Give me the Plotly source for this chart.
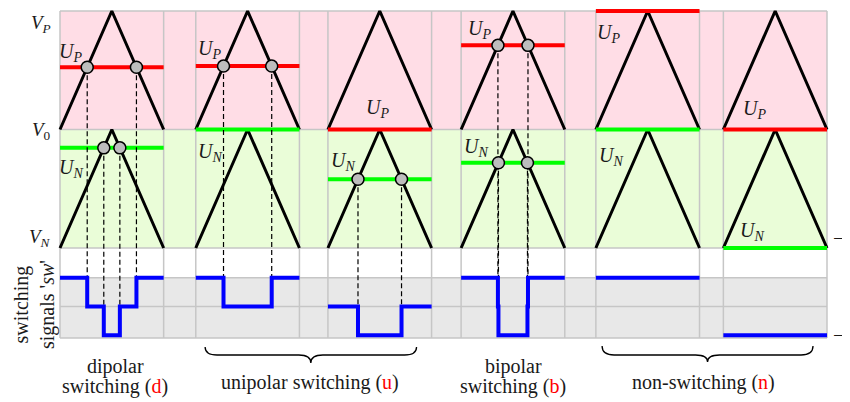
import plotly.graph_objects as go

# ---------------- data ----------------
panel_modes = ["d", "u", "u", "b", "n", "n"]
U_P = [0.525, 0.535, 0.0, 0.71, 1.0, 0.0]      # upper reference per panel
U_N = [-0.155, 0.0, -0.42, -0.28, 0.0, -1.0]   # lower reference per panel
left_labels = ["<i>V</i><sub><i>P</i></sub>", "<i>V</i><sub>0</sub>", "<i>V</i><sub><i>N</i></sub>"]
right_top_labels = ["1", "0", "\u22121"]
right_sw_labels = ["1", "0", "\u22121"]
sw_levels = [1, 0, -1]

# ---------------- layout constants ----------------
W, H = 850, 402
OFF = 8                  # page body margin offset
ML, MR, MT, MB = 50, 29, 1, 70
PXU_X = 103.65           # px per x unit
PXU_Y = 118.5            # px per y unit
X0S, Y1S = 60, 11        # screen pixel of x=0 and y=1
PANEL_X0 = [0.0, 1.31, 2.585, 3.87, 5.17, 6.4]
PANEL_W = 1.0
X_MAX = 7.4
SW_MID = -1.494
SW_SCALE = 0.2426
PW = W - ML - MR
PH = H - MT - MB


def scr_to_xd(xs):
    return (xs - X0S) / PXU_X


def px_y(ys):
    return 1 - (ys - Y1S) / PXU_Y


X_RANGE = [scr_to_xd(ML + OFF), scr_to_xd(ML + OFF + PW)]
Y_RANGE = [px_y(MT + OFF + PH), px_y(MT + OFF)]
Y_FRAME_BOT = px_y(338)


def sw_y(v):
    return SW_MID + v * SW_SCALE


def pxp(xs):
    return (xs - OFF - ML) / PW


def pyp(ys):
    return (H - MB - (ys - OFF)) / PH


def paper_x(xd):
    return pxp(X0S + xd * PXU_X)


PINK = "#FFDDE6"
LGREEN = "#EAFDD8"
LGRAY = "#E8E8E8"
GRID = "#C6C6C6"
SERIF = "Liberation Serif, Times New Roman, serif"
TXT = "#1a1a1a"

# label placement offsets (relative to panel start, data units)
UP_LBL = [(0.106, 0.654), (0.135, 0.671), (0.482, 0.181), (0.174, 0.84), (0.125, 0.814), (0.30, 0.165)]
UN_LBL = [(0.106, -0.325), (0.135, -0.19), (0.145, -0.274), (0.145, -0.156), (0.145, -0.224), (0.28, -0.857)]

fig = go.Figure()
shapes = []
shapes.append(dict(type="rect", x0=0, x1=X_MAX, y0=0, y1=1, fillcolor=PINK, line_width=0, layer="below"))
shapes.append(dict(type="rect", x0=0, x1=X_MAX, y0=-1, y1=0, fillcolor=LGREEN, line_width=0, layer="below"))
shapes.append(dict(type="rect", x0=0, x1=X_MAX, y0=Y_FRAME_BOT, y1=sw_y(1), fillcolor=LGRAY, line_width=0, layer="below"))
for yv in [1, 0, -1, sw_y(1), sw_y(0), Y_FRAME_BOT]:
    shapes.append(dict(type="line", x0=0, x1=X_MAX, y0=yv, y1=yv, line=dict(color=GRID, width=1.5), layer="below"))
for x0 in PANEL_X0:
    for xv in (x0, x0 + PANEL_W):
        shapes.append(dict(type="line", x0=xv, x1=xv, y0=Y_FRAME_BOT, y1=1, line=dict(color=GRID, width=1.5), layer="below"))

circ_x, circ_y = [], []
for i, x0 in enumerate(PANEL_X0):
    c = x0 + PANEL_W / 2
    hw = PANEL_W / 2
    up, un = U_P[i], U_N[i]
    fig.add_trace(go.Scatter(x=[x0, c, x0 + PANEL_W], y=[0, 1, 0], mode="lines",
                             line=dict(color="black", width=3), hoverinfo="skip", showlegend=False))
    fig.add_trace(go.Scatter(x=[x0, c, x0 + PANEL_W], y=[-1, 0, -1], mode="lines",
                             line=dict(color="black", width=3), hoverinfo="skip", showlegend=False))
    fig.add_trace(go.Scatter(x=[x0, x0 + PANEL_W], y=[up, up], mode="lines",
                             line=dict(color="#FF0000", width=4), hoverinfo="skip", showlegend=False))
    fig.add_trace(go.Scatter(x=[x0, x0 + PANEL_W], y=[un, un], mode="lines",
                             line=dict(color="#00FF00", width=4), hoverinfo="skip", showlegend=False))

    def sw_at(x, c=c, hw=hw, up=up, un=un):
        cp = 1 - abs(x - c) / hw
        cn = -abs(x - c) / hw
        sp = 1 if up >= cp else 0
        sn = 1 if un >= cn else 0
        return sp + sn - 1

    cross = []
    if 0 < up < 1:
        d = (1 - up) * hw
        cross += [(c - d, up), (c + d, up)]
    if -1 < un < 0:
        d = -un * hw
        cross += [(c - d, un), (c + d, un)]
    bps = sorted(set([x0, x0 + PANEL_W] + [p[0] for p in cross]))
    sx, sy = [], []
    for a, b in zip(bps[:-1], bps[1:]):
        sx.append(a)
        sy.append(sw_y(sw_at((a + b) / 2)))
    sx.append(bps[-1])
    sy.append(sy[-1])
    for (xc, yc) in cross:
        lvl = max(sw_at(xc - 1e-4), sw_at(xc + 1e-4))
        fig.add_trace(go.Scatter(x=[xc, xc], y=[yc, sw_y(lvl)], mode="lines",
                                 line=dict(color="black", width=1.2, dash="5px,3px"),
                                 hoverinfo="skip", showlegend=False))
        circ_x.append(xc)
        circ_y.append(yc)
    fig.add_trace(go.Scatter(x=sx, y=sy, mode="lines", line=dict(color="#0000FF", width=4, shape="hv"),
                             hoverinfo="skip", showlegend=False))

fig.add_trace(go.Scatter(x=circ_x, y=circ_y, mode="markers",
                         marker=dict(size=12, color="#BDBDBD", line=dict(color="black", width=1.5)),
                         hoverinfo="skip", showlegend=False))

ann = []
for i, x0 in enumerate(PANEL_X0):
    ann.append(dict(x=x0 + UP_LBL[i][0], y=UP_LBL[i][1], text="<i>U</i><sub><i>P</i></sub>",
                    showarrow=False, font=dict(family=SERIF, size=20, color=TXT)))
    ann.append(dict(x=x0 + UN_LBL[i][0], y=UN_LBL[i][1], text="<i>U</i><sub><i>N</i></sub>",
                    showarrow=False, font=dict(family=SERIF, size=20, color=TXT)))


def pann(xs, ys, text, size=20, xanchor="center", **kw):
    d = dict(x=pxp(xs), y=pyp(ys), xref="paper", yref="paper", text=text, showarrow=False,
             xanchor=xanchor, yanchor="middle",
             font=dict(family=SERIF, size=size, color=TXT))
    d.update(kw)
    return d


for t, ys in zip(left_labels, [24, 131, 238]):
    ann.append(pann(53, ys, t, size=19, xanchor="right"))
for t, ys, xs in zip(right_top_labels, [25, 130, 238], [841, 841, 831]):
    ann.append(pann(xs, ys, t, xanchor="left"))
for t, lv, xs in zip(right_sw_labels, sw_levels, [845, 841, 831]):
    ys = Y1S + (1 - sw_y(lv)) * PXU_Y
    ann.append(pann(xs, ys - 3 if lv == 1 else ys, t, xanchor="left"))

ann.append(pann(34, 305, "switching<br>signals '<i>sw</i>'", textangle=-90))


def red(ch):
    return "(<span style='color:#FF0000'>%s</span>)" % ch


bottom = [
    (115, 366, "dipolar"),
    (115, 386, "switching " + red("d")),
    (310, 382, "unipolar switching " + red("u")),
    (513, 366, "bipolar"),
    (513, 386, "switching " + red("b")),
    (703, 382, "non-switching " + red("n")),
]
for xs, ys, t in bottom:
    ann.append(pann(xs, ys, t))


def brace(xl, xr, yt=347, ym=355, ytip=363, r=12):
    xc = (xl + xr) / 2
    xlp, xrp, xcp = paper_x(xl), paper_x(xr), paper_x(xc)
    rp = r / PW
    yt_, ym_, yk_ = pyp(yt), pyp(ym), pyp(ytip)
    path = (f"M {xlp},{yt_} Q {xlp},{ym_} {xlp + rp},{ym_} L {xcp - rp},{ym_} "
            f"Q {xcp},{ym_} {xcp},{yk_} Q {xcp},{ym_} {xcp + rp},{ym_} L {xrp - rp},{ym_} "
            f"Q {xrp},{ym_} {xrp},{yt_}")
    return dict(type="path", path=path, xref="paper", yref="paper", line=dict(color="black", width=1.3))


shapes.append(brace(PANEL_X0[1] + 0.09, PANEL_X0[2] + PANEL_W - 0.145))
shapes.append(brace(PANEL_X0[4] + 0.06, PANEL_X0[5] + PANEL_W - 0.135, yt=346, ytip=362))

fig.update_layout(
    width=W, height=H, margin=dict(l=ML, r=MR, t=MT, b=MB),
    paper_bgcolor="white", plot_bgcolor="white",
    xaxis=dict(range=X_RANGE, visible=False, fixedrange=True),
    yaxis=dict(range=Y_RANGE, visible=False, fixedrange=True),
    shapes=shapes, annotations=ann, showlegend=False,
)
fig.write_html("out.html")
